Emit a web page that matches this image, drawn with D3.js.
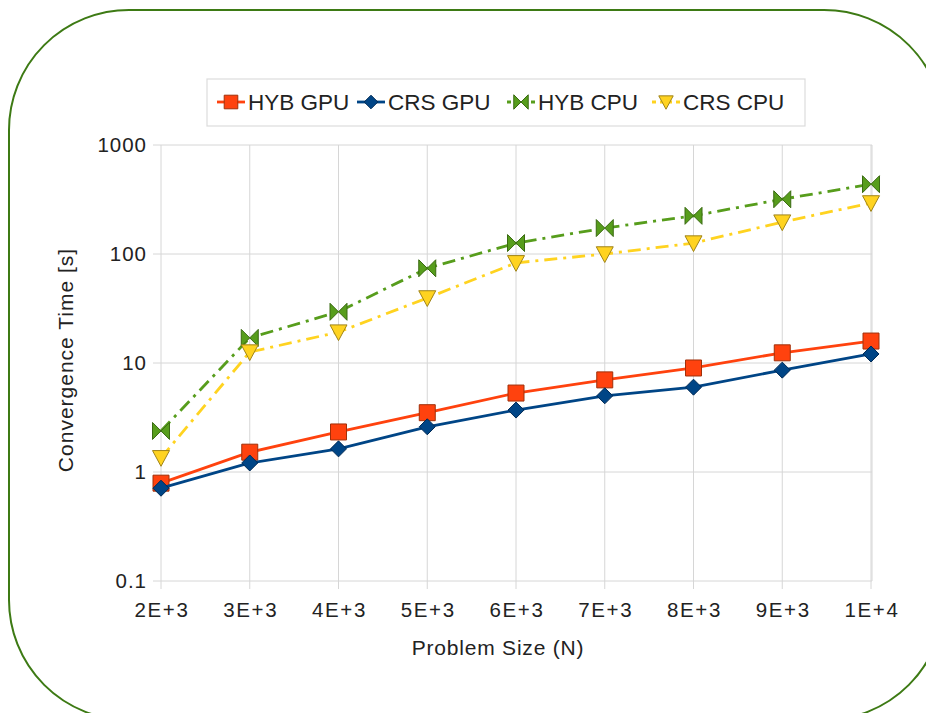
<!DOCTYPE html>
<html>
<head>
<meta charset="utf-8">
<script src="https://cdnjs.cloudflare.com/ajax/libs/d3/7.8.5/d3.min.js"></script>
<style>
  body { margin: 0; background: #fff; }
  svg text { font-family: "Liberation Sans", Arial, sans-serif; fill: #222; }
</style>
</head>
<body>
<svg id="chart" width="926" height="713"></svg>
<script>
// problem sizes on the x axis
const sizes = ["2E+3", "3E+3", "4E+3", "5E+3", "6E+3", "7E+3", "8E+3", "9E+3", "1E+4"];
const yTicks = [0.1, 1, 10, 100, 1000];

// convergence time in seconds
const hybGpu = [0.79, 1.52, 2.33, 3.5, 5.3, 7.0, 9.0, 12.4, 15.9];
const crsGpu = [0.71, 1.21, 1.63, 2.6, 3.7, 5.0, 6.0, 8.6, 12.1];
const hybCpu = [2.38, 17, 29.5, 74, 126, 173, 224, 318, 437];
const crsCpu = [1.35, 12.6, 19.2, 39.5, 83, 100, 126, 196, 294];

const series = [
  {name: "HYB GPU", values: hybGpu, color: "#ff420e", stroke: "#a0300a", dash: null, marker: "square"},
  {name: "CRS GPU", values: crsGpu, color: "#004586", stroke: "#002a55", dash: null, marker: "diamond"},
  {name: "HYB CPU", values: hybCpu, color: "#579d1c", stroke: "#3a6a12", dash: "13,6,3,6", marker: "bowtie"},
  {name: "CRS CPU", values: crsCpu, color: "#ffd320", stroke: "#a08418", dash: "13,6,3,6", marker: "triangle"}
];

const svg = d3.select("#chart");

// green rounded frame
svg.append("rect")
  .attr("x", 9).attr("y", 10)
  .attr("width", 935).attr("height", 710)
  .attr("rx", 120).attr("ry", 120)
  .attr("fill", "none")
  .attr("stroke", "#3d7a14")
  .attr("stroke-width", 2);

const plot = {left: 153, right: 872, top: 145, bottom: 581};

const x = d3.scalePoint().domain(sizes).range([161, 871]);
const y = d3.scaleLog().domain([0.1, 1000]).range([plot.bottom, plot.top]);

// grid
const grid = svg.append("g").attr("stroke", "#d6d6d6").attr("stroke-width", 1);
yTicks.forEach(t => {
  grid.append("line")
    .attr("x1", plot.left).attr("x2", plot.right)
    .attr("y1", y(t)).attr("y2", y(t));
});
sizes.forEach(s => {
  grid.append("line")
    .attr("x1", x(s)).attr("x2", x(s))
    .attr("y1", plot.top).attr("y2", plot.bottom + 8);
});
grid.append("line")
  .attr("x1", plot.right).attr("x2", plot.right)
  .attr("y1", plot.top).attr("y2", plot.bottom);

// tick labels
svg.append("g").selectAll("text").data(yTicks).join("text")
  .attr("x", 147).attr("y", d => y(d))
  .attr("dy", "0.36em")
  .attr("text-anchor", "end")
  .style("font-size", "20.5px")
  .style("letter-spacing", "1px")
  .text(d => d);

svg.append("g").selectAll("text").data(sizes).join("text")
  .attr("x", d => x(d) + 1).attr("y", 617)
  .attr("text-anchor", "middle")
  .style("font-size", "20.5px")
  .style("letter-spacing", "1.6px")
  .text(d => d);

// axis titles
svg.append("text")
  .attr("transform", "translate(73,360) rotate(-90)")
  .attr("text-anchor", "middle")
  .style("font-size", "21px")
  .style("letter-spacing", "1px")
  .text("Convergence Time [s]");

svg.append("text")
  .attr("x", 498).attr("y", 655)
  .attr("text-anchor", "middle")
  .style("font-size", "21px")
  .style("letter-spacing", "0.8px")
  .text("Problem Size (N)");

function markerPath(type, s) {
  const p = d3.path();
  if (type == "square") {
    p.rect(-s, -s, 2 * s, 2 * s);
  } else if (type == "diamond") {
    p.moveTo(0, -s); p.lineTo(s, 0); p.lineTo(0, s); p.lineTo(-s, 0); p.closePath();
  } else if (type == "bowtie") {
    p.moveTo(-s, -s); p.lineTo(0, 0); p.lineTo(-s, s); p.closePath();
    p.moveTo(s, -s); p.lineTo(0, 0); p.lineTo(s, s); p.closePath();
  } else {
    p.moveTo(-s, -s * 0.85); p.lineTo(s, -s * 0.85); p.lineTo(0, s); p.closePath();
  }
  return p.toString();
}
const markerSize = {square: 8, diamond: 8, bowtie: 8.5, triangle: 8.5};

const line = d3.line()
  .x((d, i) => x(sizes[i]))
  .y(d => y(d));

// draw CPU series first so the GPU lines sit on top as in the original
[2, 3, 0, 1].forEach(k => {
  const s = series[k];
  svg.append("path")
    .datum(s.values)
    .attr("fill", "none")
    .attr("stroke", s.color)
    .attr("stroke-width", 2.8)
    .attr("stroke-dasharray", s.dash)
    .attr("d", line);
  svg.append("g").selectAll("path").data(s.values).join("path")
    .attr("transform", (d, i) => `translate(${x(sizes[i])},${y(d)})`)
    .attr("d", markerPath(s.marker, markerSize[s.marker]))
    .attr("fill", s.color)
    .attr("stroke", s.stroke)
    .attr("stroke-width", 1);
});

// legend
const legend = svg.append("g");
legend.append("rect")
  .attr("x", 207).attr("y", 79)
  .attr("width", 598).attr("height", 47)
  .attr("fill", "#fff")
  .attr("stroke", "#dcdcdc")
  .attr("stroke-width", 1.2);

const legendX = [217, 357, 507, 652];
series.forEach((s, i) => {
  const g = legend.append("g").attr("transform", `translate(${legendX[i]},102)`);
  g.append("line")
    .attr("x1", 0).attr("x2", 28)
    .attr("stroke", s.color)
    .attr("stroke-width", 2.8)
    .attr("stroke-dasharray", s.dash ? "4,4" : null);
  g.append("path")
    .attr("transform", "translate(14,0)")
    .attr("d", markerPath(s.marker, markerSize[s.marker] * 0.85))
    .attr("fill", s.color)
    .attr("stroke", s.stroke)
    .attr("stroke-width", 1);
  g.append("text")
    .attr("x", 31).attr("dy", "0.36em")
    .style("font-size", "22.5px")
    .text(s.name);
});
</script>
</body>
</html>
